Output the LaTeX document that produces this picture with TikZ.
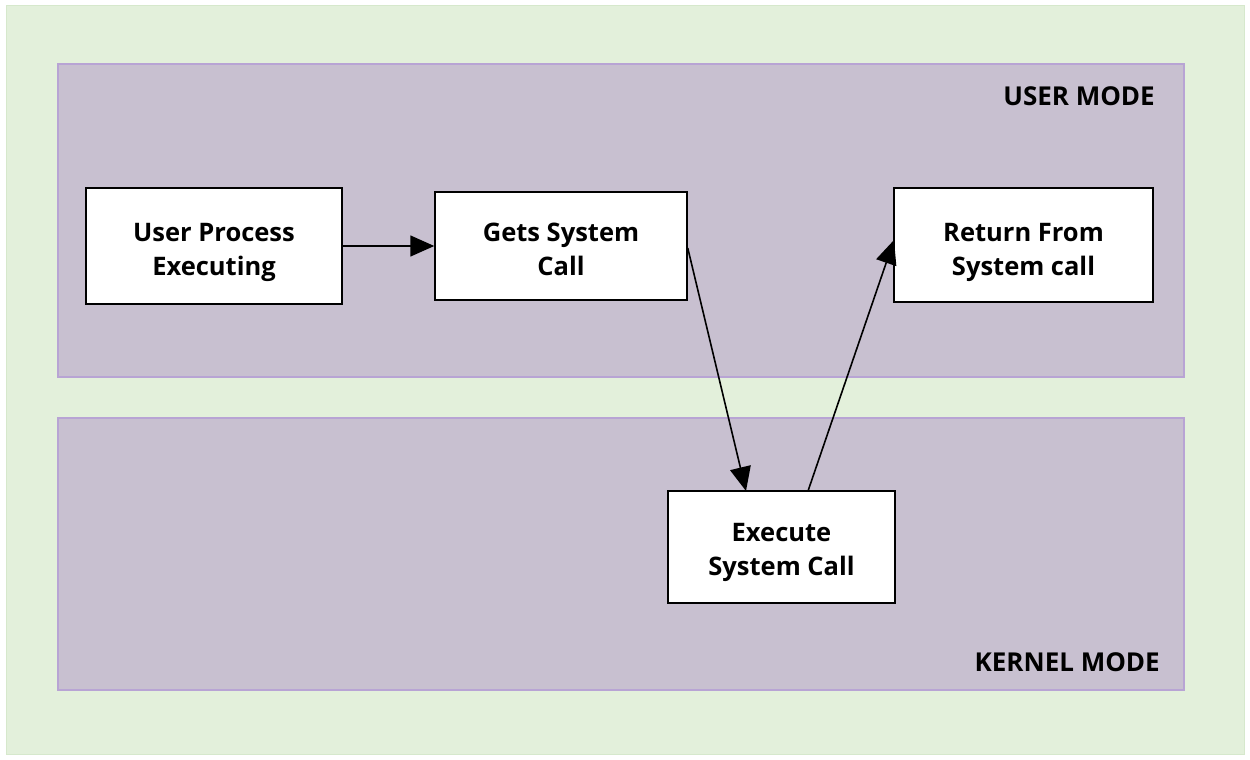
\documentclass[tikz,border=0pt]{standalone}
\usepackage{fontspec}
\setmainfont{Open Sans}
\usetikzlibrary{arrows.meta}
\definecolor{bggreen}{HTML}{E3F0DB}
\definecolor{bgborder}{HTML}{D6E8CC}
\definecolor{panel}{HTML}{C8C0D0}
\definecolor{panelborder}{HTML}{B8A4D4}
\tikzset{
  panelbox/.style={fill=panel,draw=panelborder,line width=1.5pt},
  procbox/.style={draw=black,fill=white,line width=1.5pt,inner sep=0pt},
  proctext/.style={align=center,inner sep=0pt,
    font=\fontsize{25.5}{34}\selectfont\bfseries},
  modelabel/.style={font=\fontsize{26}{30}\selectfont\bfseries,inner sep=0pt},
  flow/.style={line width=1.6pt,-{Triangle[length=24pt,width=21pt]}}
}
\begin{document}
\begin{tikzpicture}[x=1pt,y=-1pt]
\useasboundingbox (0,0) rectangle (1250,760);
\fill[white] (0,0) rectangle (1250,760);
\draw[fill=bggreen,draw=bgborder,line width=1pt] (6,6) rectangle (1244,754);
\draw[panelbox] (58,64) rectangle (1184,377);
\draw[panelbox] (58,418) rectangle (1184,690);
\node[modelabel,anchor=east] (um) at (1155,96) {USER MODE};
\node[modelabel,anchor=east] (km) at (1160,662) {KERNEL MODE};
\node[procbox,minimum width=256pt,minimum height=116pt,
  label={[proctext,yshift=-6pt]center:{User Process\\Executing}}] (upe) at (214,246) {};
\node[procbox,minimum width=252pt,minimum height=108pt,
  label={[proctext,yshift=-3pt]center:{Gets System\\Call}}] (gsc) at (561,246) {};
\node[procbox,minimum width=259pt,minimum height=114pt,
  label={[proctext,yshift=-7pt]center:{Return From\\System call}}] (rfs) at (1023.5,245) {};
\node[procbox,minimum width=227pt,minimum height=112pt,
  label={[proctext,yshift=-5pt]center:{Execute\\System Call}}] (esc) at (781.5,547) {};
\draw[flow] (upe.east) -- (gsc.west);
\draw[flow] (gsc.east |- 0,248) -- (746,491);
\coordinate (escstart) at (808,491);
\draw[flow] (escstart) -- (894,240);
\end{tikzpicture}
\end{document}
